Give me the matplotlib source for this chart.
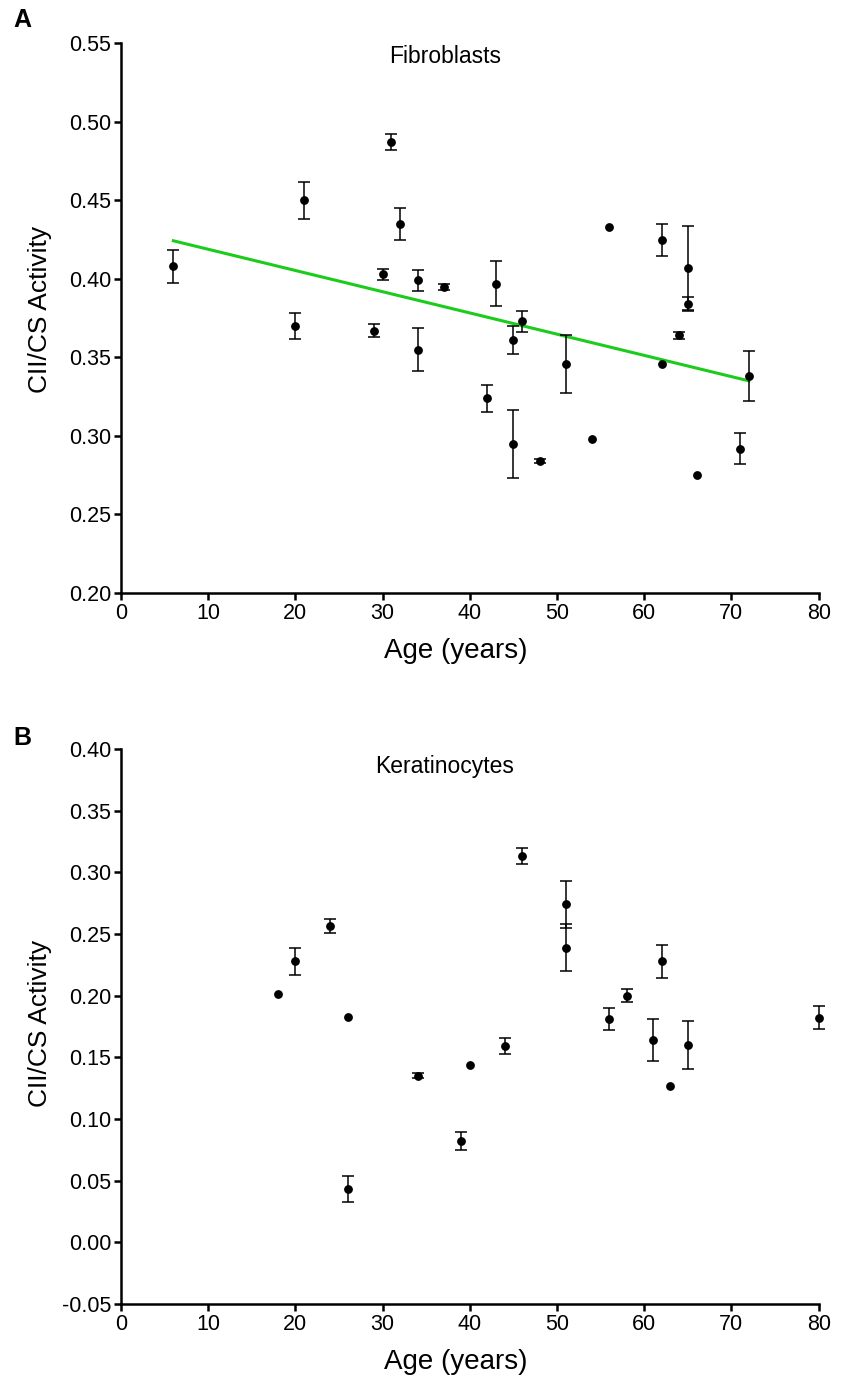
import numpy as np
from matplotlib import pyplot as plt

plt.rcParams['font.family'] = ['Liberation Sans', 'DejaVu Sans']

# Fibroblasts (panel A): age, CII/CS activity, error
fib_age = [6, 20, 21, 29, 30, 31, 32, 34, 34, 37, 42, 43, 45, 45, 46, 48,
           51, 54, 56, 62, 62, 64, 65, 65, 66, 71, 72]
fib_val = [0.408, 0.370, 0.450, 0.367, 0.403, 0.487, 0.435, 0.399, 0.355,
           0.395, 0.324, 0.397, 0.361, 0.295, 0.373, 0.284, 0.346, 0.298,
           0.433, 0.425, 0.346, 0.364, 0.407, 0.384, 0.275, 0.292, 0.338]
fib_err = [0.0107, 0.008, 0.0117, 0.004, 0.0035, 0.005, 0.010, 0.0067,
           0.0138, 0.002, 0.0085, 0.0144, 0.009, 0.0215, 0.0066, 0.001,
           0.0185, 0.0, 0.0, 0.0103, 0.0, 0.002, 0.027, 0.0045, 0.0, 0.0097,
           0.016]

# Keratinocytes (panel B)
ker_age = [18, 20, 24, 26, 26, 34, 39, 40, 44, 46, 51, 51, 56, 58, 61, 62,
           63, 65, 80]
ker_val = [0.201, 0.228, 0.2565, 0.183, 0.043, 0.135, 0.082, 0.144, 0.159,
           0.313, 0.274, 0.239, 0.181, 0.200, 0.164, 0.228, 0.127, 0.160,
           0.182]
ker_err = [0.0, 0.011, 0.0057, 0.0, 0.0105, 0.002, 0.0075, 0.0, 0.0067,
           0.0063, 0.019, 0.019, 0.009, 0.0055, 0.017, 0.0134, 0.0, 0.0195,
           0.0093]

fig = plt.figure(figsize=(8.41, 13.78), dpi=100)
axA = fig.add_axes([0.1439, 0.5697, 0.8295, 0.3988])
axB = fig.add_axes([0.1439, 0.0537, 0.8295, 0.4028])


def style(ax, ylim, yticks, xlab_y, ylab_y):
    ax.set_xlim(0, 80)
    ax.set_ylim(*ylim)
    ax.set_xticks(range(0, 81, 10))
    ax.set_yticks(yticks)
    ax.set_yticklabels([f"{t:.2f}" for t in yticks])
    for s in ("top", "right"):
        ax.spines[s].set_visible(False)
    for s in ("left", "bottom"):
        ax.spines[s].set_linewidth(1.8)
    ax.tick_params(direction="out", length=5, width=1.8, labelsize=15.5, pad=2)
    ax.set_xlabel("Age (years)", fontsize=20)
    ax.set_ylabel("CII/CS Activity", fontsize=19)
    ax.xaxis.label.set_verticalalignment("center")
    ax.yaxis.label.set_verticalalignment("center")
    ax.xaxis.set_label_coords(0.48, xlab_y)
    ax.yaxis.set_label_coords(-0.116, ylab_y)


def points(ax, x, y, e):
    x, y, e = np.array(x), np.array(y), np.array(e)
    has = e > 0
    ax.errorbar(x[has], y[has], yerr=e[has], fmt="none", ecolor="black",
                elinewidth=1.1, capsize=4, capthick=1.1, zorder=3,
                clip_on=False)
    ax.plot(x, y, "o", color="black", ms=5.3, zorder=4, clip_on=False)


points(axA, fib_age, fib_val, fib_err)
slope, icpt = np.polyfit(fib_age, fib_val, 1)
xs = np.array([min(fib_age), max(fib_age)])
axA.plot(xs, slope * xs + icpt, color="#1ccc1c", lw=2.2, zorder=2)
style(axA, (0.20, 0.55), np.arange(0.20, 0.551, 0.05), -0.1055, 0.515)
axA.text(0.464, 0.977, "Fibroblasts", transform=axA.transAxes,
         ha="center", va="center", fontsize=16.5)

points(axB, ker_age, ker_val, ker_err)
style(axB, (-0.05, 0.40), np.arange(-0.05, 0.401, 0.05), -0.1045, 0.505)
axB.text(0.464, 0.968, "Keratinocytes", transform=axB.transAxes,
         ha="center", va="center", fontsize=16.5)

fig.text(22 / 841, 1 - 20 / 1378, "A", fontsize=18, fontweight="bold",
         ha="center", va="center")
fig.text(22 / 841, 1 - 738 / 1378, "B", fontsize=18, fontweight="bold",
         ha="center", va="center")

fig.savefig("out.png", dpi=100)
